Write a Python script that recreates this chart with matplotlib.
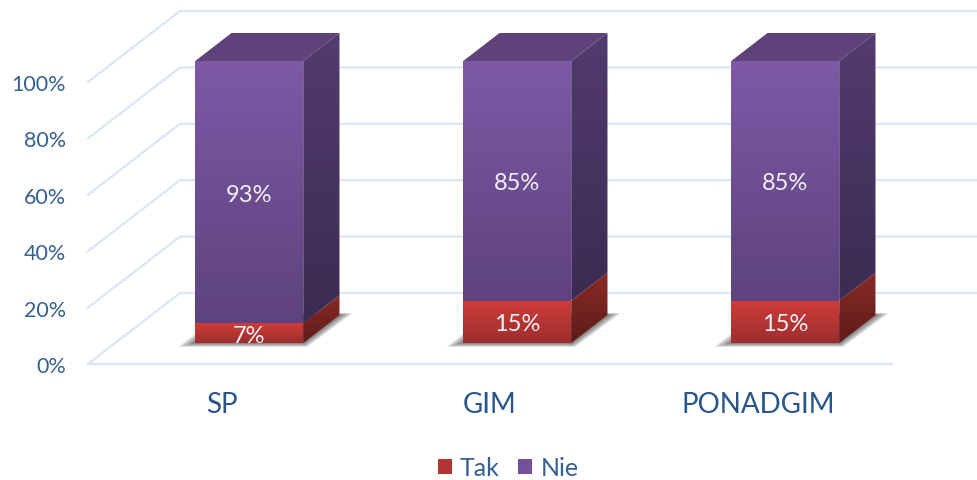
import numpy as np
import matplotlib
matplotlib.use('Agg')
import matplotlib.pyplot as plt
from matplotlib.colors import LinearSegmentedColormap
from matplotlib.patches import Polygon, Patch

# Dane
categories = ['SP', 'GIM', 'PONADGIM']
tak = [7, 15, 15]
nie = [93, 85, 85]
yticks = [0, 20, 40, 60, 80, 100]
ytick_labels = ['0%', '20%', '40%', '60%', '80%', '100%']

plt.rcParams['font.family'] = ['Lato', 'DejaVu Sans']

W, H = 977, 481
AX_L, AX_B = 72, 385   # lewy i dolny brzeg osi w pikselach
X0, Y0 = 222, 365      # kategoria 0, wartosc 0 na przedniej krawedzi
PX_CAT, PX_VAL = 268, 2.82

fig = plt.figure(figsize=(W / 100, H / 100), dpi=100)
ax = fig.add_axes([AX_L / W, (H - AX_B) / H, (W - AX_L) / W, AX_B / H])
ax.set_xlim((AX_L - X0) / PX_CAT, (W - X0) / PX_CAT)
ax.set_ylim((Y0 - AX_B) / PX_VAL, Y0 / PX_VAL)
for s in ax.spines.values():
    s.set_visible(False)

# Rzut pseudo 3D: d = glebokosc (0 przod, 1 tyl)
DX = 92 / PX_CAT
DY = 71 / PX_VAL


def proj(x, v, d):
    return x + d * DX, v + d * DY


def grad_poly(pts, c1, c2, angle=90, zorder=3):
    # wielokat wypelniony gradientem, c1 -> c2 w kierunku angle
    pts = np.array(pts)
    n = 64
    xx, yy = np.meshgrid(np.linspace(0, 1, n), np.linspace(1, 0, n))
    a = np.radians(angle)
    g = xx * np.cos(a) + yy * np.sin(a)
    g = (g - g.min()) / (g.max() - g.min())
    cmap = LinearSegmentedColormap.from_list('g', [c1, c2])
    ext = (pts[:, 0].min(), pts[:, 0].max(), pts[:, 1].min(), pts[:, 1].max())
    im = ax.imshow(g, cmap=cmap, extent=ext, aspect='auto', origin='upper',
                   interpolation='bilinear', zorder=zorder)
    p = Polygon(pts, closed=True, transform=ax.transData, fc='none', ec='none')
    ax.add_patch(p)
    im.set_clip_path(p)


grid_c = '#dae6f5'
for v in yticks:
    x1, y1 = proj(-0.5, v, 0)
    x2, y2 = proj(-0.5, v, 1)
    x3, y3 = proj(2.5, v, 1)
    ax.plot([x1, x2, x3], [y1, y2, y3], color=grid_c, lw=1.6, zorder=1, clip_on=False)
ax.plot([-0.5, 2.5], [0, 0], color=grid_c, lw=1.6, zorder=1)

D1, D2 = 0.296, 0.69
BW = 108 / PX_CAT
px = 1 / PX_CAT

for i in range(len(categories)):
    xl, xr = i - BW / 2, i + BW / 2

    # cien na podlodze
    steps = 8
    for k in range(steps):
        t = 1 - k / (steps - 1)
        d_a = D1 - 0.056 * t
        d_b = D2 + 0.028 * t
        sh = [proj(xl - 12 * px * t, 0, d_a), proj(xr + 9 * px * t, 0, d_a),
              proj(xr + 11 * px * t, 0, d_b), proj(xl - 12 * px * t, 0, d_b)]
        ax.add_patch(Polygon(sh, closed=True, fc='#282828', ec='none', alpha=0.11, zorder=2))

    # Tak
    a, b = 0, tak[i]
    grad_poly([proj(xl, a, D1), proj(xr, a, D1), proj(xr, b, D1), proj(xl, b, D1)],
              '#9b2f2e', '#cf3c39', zorder=4)
    grad_poly([proj(xr, a, D1), proj(xr, a, D2), proj(xr, b, D2), proj(xr, b, D1)],
              '#5e1c1a', '#8a2a26', zorder=4)
    # Nie
    a, b = tak[i], tak[i] + nie[i]
    grad_poly([proj(xl, a, D1), proj(xr, a, D1), proj(xr, b, D1), proj(xl, b, D1)],
              '#5f437f', '#7d59a6', zorder=4)
    grad_poly([proj(xr, a, D1), proj(xr, a, D2), proj(xr, b, D2), proj(xr, b, D1)],
              '#3c2b52', '#523b6f', zorder=4)
    # gora
    top = [proj(xl, b, D1), proj(xr, b, D1), proj(xr, b, D2), proj(xl, b, D2)]
    ax.add_patch(Polygon(top, closed=True, fc='#5e4279', ec='none', zorder=4))

    # etykiety
    cx, _ = proj(i, 0, D1)
    _, y_tak = proj(0, tak[i] / 2, D1)
    _, y_nie = proj(0, tak[i] + nie[i] / 2, D1)
    ax.text(cx, y_tak, f'{tak[i]}%', color='#f4f0f6', fontsize=17, ha='center',
            va='center_baseline', zorder=6)
    ax.text(cx, y_nie, f'{nie[i]}%', color='#f4f0f6', fontsize=17, ha='center',
            va='center_baseline', zorder=6)

ax.set_yticks(yticks)
ax.set_yticklabels(ytick_labels, fontsize=15.5, color='#35608f')
ax.set_xticks(range(len(categories)))
ax.set_xticklabels(categories, fontsize=20, color='#28558a')
ax.tick_params(axis='both', length=0)
ax.tick_params(axis='y', pad=4.5)
ax.tick_params(axis='x', pad=5)

handles = [Patch(fc='#b53534', label='Tak'), Patch(fc='#72519a', label='Nie')]
leg = fig.legend(handles=handles, loc='center', bbox_to_anchor=(508 / W, (H - 469) / H), ncol=2,
                 frameon=False, fontsize=18, handlelength=0.56, handleheight=0.56,
                 handletextpad=0.32, columnspacing=0.76, borderpad=0, labelcolor='#35608f')

fig.savefig('out.png', dpi=100)
